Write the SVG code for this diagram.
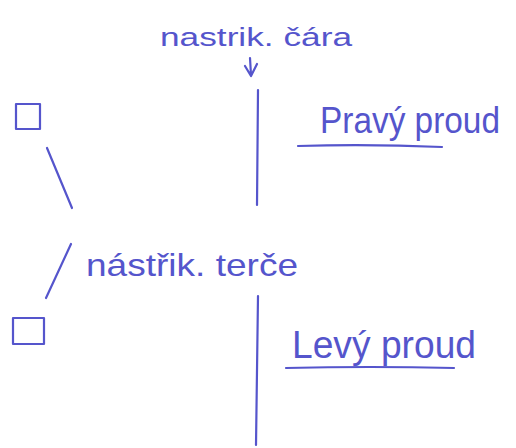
<svg xmlns="http://www.w3.org/2000/svg" width="516" height="448" viewBox="0 0 516 448">
<style>
.pen{stroke:#5555cc;stroke-width:2.2;fill:none;stroke-linecap:round;stroke-linejoin:round}
.t{fill:#5555cc;font-family:"Liberation Sans",Arial,sans-serif}
</style>
<rect width="516" height="448" fill="#ffffff"/>
<g id="label-cara">
<text class="t" x="160" y="46" font-size="26" textLength="192" lengthAdjust="spacingAndGlyphs">nastrik. čára</text>
<path class="pen" d="M250 58 L251 75 M245 66 L251 76 L257 64"/>
</g>
<g id="pravy-proud">
<text class="t" x="320" y="133" font-size="36" textLength="180" lengthAdjust="spacingAndGlyphs">Pravý proud</text>
<path class="pen" d="M298 146 Q370 144 442 147"/>
</g>
<g id="square-top">
<rect class="pen" x="16" y="104" width="24" height="25"/>
</g>
<g id="square-bottom">
<rect class="pen" x="13" y="318" width="31" height="26"/>
</g>
<g id="label-terce">
<text class="t" x="86" y="276" font-size="32" textLength="212" lengthAdjust="spacingAndGlyphs">nástřik. terče</text>
</g>
<g id="levy-proud">
<text class="t" x="292" y="358" font-size="38" textLength="184" lengthAdjust="spacingAndGlyphs">Levý proud</text>
<path class="pen" d="M286 368 Q370 366 454 368"/>
</g>
<g id="connectors">
<path class="pen" d="M258 90 L257 205"/>
<path class="pen" d="M258 296 L256 445"/>
<path class="pen" d="M47 148 L72 208"/>
<path class="pen" d="M71 244 L46 298"/>
</g>
</svg>
